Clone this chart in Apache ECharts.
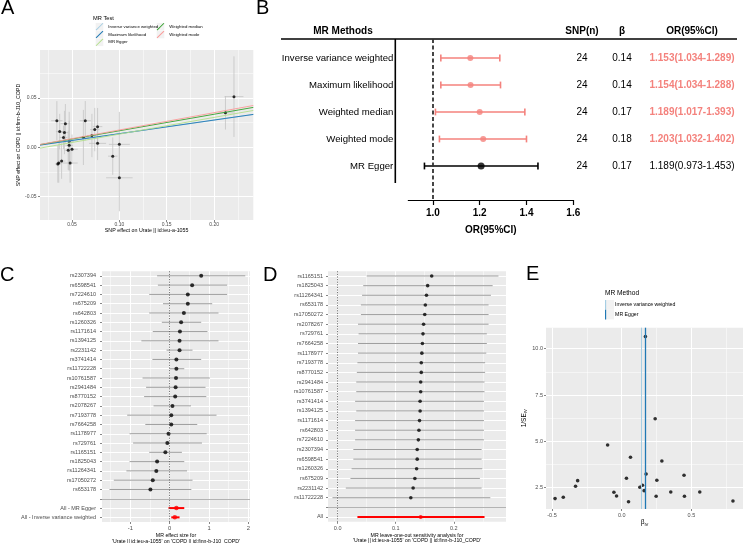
<!DOCTYPE html>
<html>
<head>
<meta charset="utf-8">
<script src="https://cdn.jsdelivr.net/npm/echarts@6.0.0/dist/echarts.min.js"></script>
<style>
html,body{margin:0;padding:0;background:#ffffff;}
#chart{width:743px;height:543px;}
</style>
</head>
<body>
<div id="chart"></div>
<script>
// ================= DATA =================
// ---- Panel A: MR scatter (SNP effects on exposure / outcome) ----
const aSnpBx = [0.221,0.212,0.034,0.064,0.037,0.043,0.042,0.077,0.074,0.071,0.062,0.041,0.047,0.047,0.077,0.100,0.046,0.050,0.093,0.036,0.035,0.048,0.100,0.039];
const aSnpBy = [0.0515,0.035,0.027,0.027,0.016,0.024,0.015,0.021,0.018,0.012,0.010,0.010,0.006,0.002,0.004,0.003,-0.003,-0.002,-0.009,-0.016,-0.017,-0.016,-0.031,-0.014];
const aSeX  = [0.010,0.008,0.006,0.006,0.004,0.005,0.004,0.005,0.005,0.005,0.006,0.004,0.005,0.004,0.009,0.011,0.004,0.006,0.005,0.003,0.003,0.008,0.014,0.004];
const aSeY  = [0.041,0.017,0.020,0.020,0.018,0.020,0.022,0.019,0.022,0.022,0.028,0.012,0.030,0.025,0.017,0.033,0.020,0.015,0.019,0.020,0.019,0.020,0.034,0.018];
const aMethods = ['Inverse variance weighted','Maximum likelihood','MR Egger','Weighted median','Weighted mode'];
const aSlopes = [0.138,0.1385,0.170,0.168,0.176];
const aIntercepts = [0,0,-0.0036,0,0];
const aXTicks = [0.05,0.10,0.15,0.20];
const aXMinor = [0.025,0.075,0.125,0.175,0.225];
const aYTicks = [-0.05,0,0.05];
const aYMinor = [-0.025,0.025,0.075];
const aXTitle = 'SNP effect on Urate || id:ieu-a-1055';
const aYTitle = 'SNP effect on COPD || id:finn-b-J10_COPD';
const aLegendTitle = 'MR Test';

// ---- Panel B: forest table ----
const bMethods = ['Inverse variance weighted','Maximum likelihood','Weighted median','Weighted mode','MR Egger'];
const bOR = [1.160,1.161,1.200,1.215,1.206];
const bLo = [1.034,1.034,1.011,1.028,0.964];
const bHi = [1.286,1.289,1.393,1.400,1.449];
const bSnp = ['24','24','24','24','24'];
const bBeta = ['0.14','0.14','0.17','0.18','0.17'];
const bOrText = ['1.153(1.034-1.289)','1.154(1.034-1.288)','1.189(1.017-1.393)','1.203(1.032-1.402)','1.189(0.973-1.453)'];
const bHeaders = ['MR Methods','SNP(n)','β','OR(95%CI)'];
const bTicks = [1.0,1.2,1.4,1.6];
const bXTitle = 'OR(95%CI)';

// ---- Panel C: single SNP forest ----
const cSnps = ['rs2307394','rs6598541','rs7224610','rs675209','rs642803','rs1260326','rs1171614','rs1394125','rs2231142','rs3741414','rs11722228','rs10761587','rs2941484','rs8770152','rs2078267','rs7193778','rs7664258','rs1178977','rs729761','rs1165151','rs1825043','rs11264341','rs17050272','rs653178'];
const cB  = [0.80,0.57,0.46,0.46,0.36,0.29,0.26,0.25,0.25,0.17,0.17,0.16,0.15,0.14,0.07,0.04,0.04,-0.03,-0.06,-0.11,-0.32,-0.34,-0.43,-0.49];
const cLo = [-0.32,-0.30,-0.52,-0.17,-0.52,-0.20,-0.43,-0.72,-0.08,-0.44,-0.01,-0.69,-0.60,-0.65,-0.41,-1.08,-0.62,-1.02,-0.93,-0.52,-1.02,-1.10,-1.42,-1.53];
const cUp = [1.92,1.46,1.46,1.08,1.24,0.80,0.96,1.24,0.58,0.80,0.37,1.02,0.91,0.93,0.54,1.19,0.70,0.94,0.82,0.31,0.37,0.44,0.58,0.55];
const cAll = ['All - MR Egger','All - Inverse variance weighted'];
const cAllB  = [0.17,0.13];
const cAllLo = [-0.03,0.04];
const cAllUp = [0.37,0.25];
const cXTicks = [-1,0,1,2];
const cXMinor = [-1.5,-0.5,0.5,1.5];
const cXTitle = "MR effect size for\n'Urate || id:ieu-a-1055' on 'COPD || id:finn-b-J10_COPD'";

// ---- Panel D: leave-one-out ----
const dSnps = ['rs1165151','rs1825043','rs11264341','rs653178','rs17050272','rs2078267','rs729761','rs7664258','rs1178977','rs7193778','rs8770152','rs2941484','rs10761587','rs3741414','rs1394125','rs1171614','rs642803','rs7224610','rs2307394','rs6598541','rs1260326','rs675209','rs2231142','rs11722228'];
const dB  = [0.162,0.155,0.153,0.151,0.150,0.148,0.147,0.146,0.145,0.144,0.144,0.143,0.143,0.142,0.142,0.141,0.140,0.139,0.137,0.137,0.136,0.133,0.130,0.126];
const dLo = [0.050,0.044,0.042,0.040,0.040,0.035,0.036,0.035,0.035,0.034,0.033,0.032,0.032,0.030,0.032,0.030,0.030,0.030,0.027,0.027,0.024,0.022,0.014,-0.009];
const dUp = [0.277,0.267,0.264,0.260,0.260,0.260,0.257,0.257,0.256,0.254,0.254,0.253,0.253,0.252,0.252,0.252,0.252,0.252,0.248,0.248,0.249,0.245,0.248,0.263];
const dAll = ['All'];
const dAllB = [0.143];
const dAllLo = [0.034];
const dAllUp = [0.253];
const dXTicks = [0,0.1,0.2];
const dXMinor = [0.05,0.15,0.25];
const dXTitle = "MR leave-one-out sensitivity analysis for\n'Urate || id:ieu-a-1055' on 'COPD || id:finn-b-J10_COPD'";

// ---- Panel E: funnel ----
const eB = [0.170,0.240,-0.101,0.063,0.288,0.175,0.447,0.034,-0.316,0.252,-0.331,0.149,0.130,0.161,-0.056,0.352,0.560,-0.037,0.247,0.450,-0.419,-0.478,0.049,0.798];
const eInvSe = [10.65,6.22,4.80,4.14,3.94,3.24,3.17,3.01,2.88,2.90,2.58,2.63,2.52,2.34,2.25,2.27,2.27,2.05,2.04,2.04,1.98,1.91,1.74,1.78];
const eMethods = ['Inverse variance weighted','MR Egger'];
const eMethodBeta = [0.144,0.173];
const eXTicks = [-0.5,0,0.5];
const eXMinor = [-0.25,0.25,0.75];
const eYTicks = [2.5,5,7.5,10];
const eYMinor = [3.75,6.25,8.75];
const eLegendTitle = 'MR Method';

const panelLetters = ['A','B','C','D','E'];

// ================= LAYOUT / STYLE =================
const FF = '"Liberation Sans", Arial, Helvetica, sans-serif';
const AX_TEXT = '#4D4D4D';
const PINK = '#F4827D';
const aColors = ['#A6CEE3','#1F78B4','#B2DF8A','#33A02C','#FB9A99'];
const eColors = ['#A6CEE3','#1F78B4'];
const A_XR = [0.0162,0.2414], A_YR = [-0.0739,0.0989];
const C_XR = [-1.72,2.04];
const D_XR = [-0.0167,0.290];
const E_XR = [-0.543,0.87], E_YR = [1.35,11.13];

const gridDefs = [
  {left:40, top:50, width:213.3, height:170},
  {left:408.3, top:39, width:165, height:161},
  {left:102, top:271.2, width:148, height:250.8},
  {left:328, top:271.2, width:178, height:250.6},
  {left:546, top:327.7, width:197, height:181.3}
];
const grids = gridDefs.map((g,i)=>Object.assign({show:i!==1, backgroundColor:'#EBEBEB', borderWidth:0, containLabel:false, outerBoundsMode:'none'}, g));

function vAxis(o){
  const ax = {type:'value', gridIndex:o.grid, min:o.min, max:o.max, inverse:!!o.inverse,
    axisLine:{show:false,onZero:false},
    splitLine:{show:true,lineStyle:{color:'#FFFFFF',width:o.minor?0.5:1}}};
  if(o.minor){
    ax.axisTick={show:false,customValues:o.ticks};
    ax.axisLabel={show:false};
  } else {
    ax.axisTick={show:true,length:2,lineStyle:{color:'#333333',width:0.6},customValues:o.ticks};
    ax.axisLabel={show:true,customValues:o.labels||o.ticks,formatter:o.fmt,fontSize:o.size,color:AX_TEXT,fontFamily:FF,margin:o.margin};
  }
  if(o.name){
    ax.name=o.name; ax.nameLocation='middle'; ax.nameGap=o.nameGap;
    ax.nameTextStyle=Object.assign({color:'#000',fontFamily:FF},o.nameStyle);
  }
  return ax;
}
const f2 = v=>Number(v).toFixed(2), f1 = v=>Number(v).toFixed(1);
const cLabels = cSnps.concat([''],cAll);
const dLabels = dSnps.concat([''],dAll);
const seq = n=>Array.from({length:n},(_,i)=>i+1);

const xAxes = [
  vAxis({grid:0,min:A_XR[0],max:A_XR[1],ticks:aXTicks,fmt:f2,size:5,margin:2.5,name:aXTitle,nameGap:6.5,nameStyle:{fontSize:5.3}}),
  vAxis({grid:0,min:A_XR[0],max:A_XR[1],ticks:aXMinor,minor:true}),
  {type:'value',gridIndex:1,min:0.895,max:1.6,position:'bottom',
    axisLine:{show:true,onZero:false,lineStyle:{color:'#000',width:1.2}},
    axisTick:{show:true,length:5,customValues:bTicks,lineStyle:{color:'#000',width:1.2}},
    axisLabel:{customValues:bTicks,formatter:f1,fontSize:10,fontWeight:'bold',color:'#000',fontFamily:FF,margin:8},
    splitLine:{show:false},
    name:bXTitle,nameLocation:'middle',nameGap:25,nameTextStyle:{fontSize:10,fontWeight:'bold',color:'#000',fontFamily:FF}},
  vAxis({grid:2,min:C_XR[0],max:C_XR[1],ticks:cXTicks,fmt:v=>String(v),size:5.8,margin:3.5,name:cXTitle,nameGap:10,nameStyle:{fontSize:5.2,lineHeight:5.8}}),
  vAxis({grid:2,min:C_XR[0],max:C_XR[1],ticks:cXMinor,minor:true}),
  vAxis({grid:3,min:D_XR[0],max:D_XR[1],ticks:dXTicks,fmt:f1,size:5.5,margin:3.5,name:dXTitle,nameGap:10,nameStyle:{fontSize:5.2,lineHeight:5.8}}),
  vAxis({grid:3,min:D_XR[0],max:D_XR[1],ticks:dXMinor,minor:true}),
  vAxis({grid:4,min:E_XR[0],max:E_XR[1],ticks:eXTicks,fmt:f1,size:5.5,margin:3,name:'β{sub|IV}',nameGap:8,
    nameStyle:{fontSize:6.5,rich:{sub:{fontSize:4.2,verticalAlign:'bottom',padding:[4,0,0,0],fontFamily:FF}}}}),
  vAxis({grid:4,min:E_XR[0],max:E_XR[1],ticks:eXMinor,minor:true})
];
const yAxes = [
  vAxis({grid:0,min:A_YR[0],max:A_YR[1],ticks:aYTicks,fmt:f2,size:5,margin:3.5,name:aYTitle,nameGap:10,nameStyle:{fontSize:5.3}}),
  vAxis({grid:0,min:A_YR[0],max:A_YR[1],ticks:aYMinor,minor:true}),
  {type:'value',gridIndex:1,min:0.296,max:6.26,inverse:true,
    axisLine:{show:false,onZero:false},axisTick:{show:false},splitLine:{show:false},
    axisLabel:{customValues:seq(bMethods.length),formatter:v=>bMethods[v-1],fontSize:9.6,color:'#000',fontFamily:FF,margin:15}},
  vAxis({grid:2,min:0.5,max:cLabels.length+0.5,inverse:true,ticks:seq(cLabels.length),fmt:v=>cLabels[v-1],size:5.5,margin:6}),
  vAxis({grid:3,min:0.5,max:dLabels.length+0.5,inverse:true,ticks:seq(dLabels.length),fmt:v=>dLabels[v-1],size:5.5,margin:5}),
  vAxis({grid:4,min:E_YR[0],max:E_YR[1],ticks:eYTicks,fmt:f1,size:5.5,margin:3,name:'1/SE{sub|IV}',nameGap:18,
    nameStyle:{fontSize:6.5,rich:{sub:{fontSize:4.2,verticalAlign:'bottom',padding:[4,0,0,0],fontFamily:FF}}}}),
  vAxis({grid:4,min:E_YR[0],max:E_YR[1],ticks:eYMinor,minor:true})
];

// ---- render helpers ----
function ciRender(thinColor, thinW){
  return function(params, api){
    const lo=api.value(0), hi=api.value(1), row=api.value(2), tot=api.value(3);
    const p1=api.coord([lo,row]), p2=api.coord([hi,row]);
    return {type:'line',shape:{x1:p1[0],y1:p1[1],x2:p2[0],y2:p2[1]},
      style:{stroke:tot?'#FF0000':thinColor,lineWidth:tot?2:thinW}};
  };
}
const refLines = (sepRow)=>({silent:true,symbol:'none',label:{show:false},animation:false,
  data:[{xAxis:0,lineStyle:{type:[1.2,1.4],color:'#555555',width:0.8}},
        {yAxis:sepRow,lineStyle:{type:'solid',color:'#B3B3B3',width:1}}]});

const series = [];
// Panel A
series.push({type:'custom',xAxisIndex:0,yAxisIndex:0,silent:true,z:2,
  data:aSnpBx.map((x,i)=>[x,aSnpBy[i],aSeX[i],aSeY[i]]),
  renderItem:(p,api)=>{
    const x=api.value(0),y=api.value(1),sx=api.value(2),sy=api.value(3);
    const t=api.coord([x,y+sy]),b=api.coord([x,y-sy]),l=api.coord([x-sx,y]),r=api.coord([x+sx,y]);
    const st={stroke:'#C4C4C4',lineWidth:0.8};
    return {type:'group',children:[
      {type:'line',shape:{x1:t[0],y1:t[1],x2:b[0],y2:b[1]},style:st},
      {type:'line',shape:{x1:l[0],y1:l[1],x2:r[0],y2:r[1]},style:st}]};
  }});
series.push({type:'scatter',xAxisIndex:0,yAxisIndex:0,symbolSize:3,z:3,itemStyle:{color:'#000'},
  data:aSnpBx.map((x,i)=>[x,aSnpBy[i]])});
aMethods.forEach((m,i)=>{
  series.push({name:m,type:'line',xAxisIndex:0,yAxisIndex:0,symbol:'none',z:4,color:aColors[i],
    lineStyle:{color:aColors[i],width:0.9},
    data:[[A_XR[0],aIntercepts[i]+aSlopes[i]*A_XR[0]],[A_XR[1],aIntercepts[i]+aSlopes[i]*A_XR[1]]]});
});
// Panel B
series.push({type:'custom',xAxisIndex:2,yAxisIndex:2,silent:true,z:3,
  data:bMethods.map((m,i)=>[bLo[i],bHi[i],i+1,bLo[i]>1?1:0]),
  renderItem:(p,api)=>{
    const a=api.coord([api.value(0),api.value(2)]),b=api.coord([api.value(1),api.value(2)]);
    const col=api.value(3)?PINK:'#000000', h=3.4, st={stroke:col,lineWidth:1.6};
    return {type:'group',children:[
      {type:'line',shape:{x1:a[0],y1:a[1],x2:b[0],y2:b[1]},style:st},
      {type:'line',shape:{x1:a[0],y1:a[1]-h,x2:a[0],y2:a[1]+h},style:st},
      {type:'line',shape:{x1:b[0],y1:b[1]-h,x2:b[0],y2:b[1]+h},style:st}]};
  }});
series.push({type:'scatter',xAxisIndex:2,yAxisIndex:2,z:4,
  data:bMethods.map((m,i)=>({value:[bOR[i],i+1],symbolSize:bLo[i]>1?6:7,itemStyle:{color:bLo[i]>1?PINK:'#000'}})),
  markLine:{silent:true,symbol:'none',label:{show:false},lineStyle:{type:[4,2.5],color:'#333',width:1.8},data:[{xAxis:1}]}});
// Panel C
series.push({type:'custom',xAxisIndex:3,yAxisIndex:3,silent:true,z:3,
  data:cSnps.map((s,i)=>[cLo[i],cUp[i],i+1,0]).concat(cAll.map((s,j)=>[cAllLo[j],cAllUp[j],cSnps.length+2+j,1])),
  renderItem:ciRender('#858585',0.8)});
series.push({type:'scatter',xAxisIndex:3,yAxisIndex:3,symbolSize:4,z:4,itemStyle:{color:'#000'},
  data:cSnps.map((s,i)=>[cB[i],i+1]),markLine:refLines(cSnps.length+1)});
series.push({type:'scatter',xAxisIndex:3,yAxisIndex:3,symbolSize:4.5,z:5,itemStyle:{color:'#FF0000'},
  data:cAll.map((s,j)=>[cAllB[j],cSnps.length+2+j])});
// Panel D
series.push({type:'custom',xAxisIndex:5,yAxisIndex:4,silent:true,z:3,
  data:dSnps.map((s,i)=>[dLo[i],dUp[i],i+1,0]).concat(dAll.map((s,j)=>[dAllLo[j],dAllUp[j],dSnps.length+2+j,1])),
  renderItem:ciRender('#858585',0.8)});
series.push({type:'scatter',xAxisIndex:5,yAxisIndex:4,symbolSize:3.6,z:4,itemStyle:{color:'#000'},
  data:dSnps.map((s,i)=>[dB[i],i+1]),markLine:refLines(dSnps.length+1)});
series.push({type:'scatter',xAxisIndex:5,yAxisIndex:4,symbolSize:4,z:5,itemStyle:{color:'#FF0000'},
  data:dAll.map((s,j)=>[dAllB[j],dSnps.length+2+j])});
// Panel E
eMethods.forEach((m,i)=>{
  series.push({name:m,type:'scatter',xAxisIndex:7,yAxisIndex:5,data:[],z:3,itemStyle:{color:eColors[i]},
    markLine:{silent:true,symbol:'none',label:{show:false},lineStyle:{type:'solid',color:eColors[i],width:i?1.3:1},
      data:[{xAxis:eMethodBeta[i]}]}});
});
series.push({type:'scatter',xAxisIndex:7,yAxisIndex:5,symbolSize:3.6,z:4,itemStyle:{color:'#000'},
  data:eB.map((b,i)=>[b,eInvSe[i]])});

// ---- legends ----
const diagIcon = 'path://M0,9.1 L9.1,0 L10,0.9 L0.9,10 Z';
const vIcon = 'path://M4.4,0 L5.6,0 L5.6,10 L4.4,10 Z';
const legItem = (name,c)=>({name,itemStyle:{color:c,borderColor:c,borderWidth:0}});
const legBase = {orient:'vertical',padding:0,itemGap:0.2,selectedMode:false,
  textStyle:{fontFamily:FF,color:'#000'},lineStyle:{width:0}};
const legends = [
  Object.assign({},legBase,{left:95.7,top:22.9,itemWidth:7.6,itemHeight:7.6,icon:diagIcon,
    textStyle:{fontFamily:FF,color:'#000',fontSize:4.3},
    data:aMethods.slice(0,3).map((m,i)=>legItem(m,aColors[i]))}),
  Object.assign({},legBase,{left:156.7,top:22.9,itemWidth:7.6,itemHeight:7.6,icon:diagIcon,
    textStyle:{fontFamily:FF,color:'#000',fontSize:4.3},
    data:aMethods.slice(3).map((m,i)=>legItem(m,aColors[i+3]))}),
  Object.assign({},legBase,{left:605,top:300,itemWidth:9,itemHeight:9.7,itemGap:0,icon:vIcon,
    textStyle:{fontFamily:FF,color:'#000',fontSize:5.2},
    data:eMethods.map((m,i)=>legItem(m,eColors[i]))})
];

const chart = echarts.init(document.getElementById('chart'),null,{renderer:'canvas',width:743,height:543});
chart.setOption({animation:false,backgroundColor:'#ffffff',
  textStyle:{fontFamily:FF},
  grid:grids,xAxis:xAxes,yAxis:yAxes,legend:legends,series:series});

// ---- graphic texts (letters, legend titles, table) ----
const g = [];
const letterPos = [[1,-2],[256,-2],[0,265],[263,265],[526,264]];
panelLetters.forEach((L,i)=>g.push({type:'text',x:letterPos[i][0],y:letterPos[i][1],
  style:{text:L,fontSize:20,fontFamily:FF,fill:'#000',verticalAlign:'top',align:'left'}}));
// legend key backgrounds
[0,1,2].forEach(k=>g.push({type:'rect',shape:{x:95.7,y:22.9+k*7.8,width:7.6,height:7.6},style:{fill:'#F2F2F2'},z:-1}));
[0,1].forEach(k=>g.push({type:'rect',shape:{x:156.7,y:22.9+k*7.8,width:7.6,height:7.6},style:{fill:'#F2F2F2'},z:-1}));
[0,1].forEach(k=>g.push({type:'rect',shape:{x:605,y:300+k*9.7,width:9,height:9.7},style:{fill:'#F2F2F2'},z:-1}));
g.push({type:'text',x:93,y:18.3,style:{text:aLegendTitle,fontSize:5.7,fontFamily:FF,fill:'#000',verticalAlign:'middle'}});
g.push({type:'text',x:605,y:293.3,style:{text:eLegendTitle,fontSize:6.6,fontFamily:FF,fill:'#000',verticalAlign:'middle'}});
// table
const colX = [343,582,622,692];
const headY = 31;
bHeaders.forEach((h,i)=>g.push({type:'text',x:colX[i],y:headY,
  style:{text:h,fontSize:10,fontWeight:'bold',fontFamily:FF,fill:'#000',align:'center',verticalAlign:'middle'}}));
g.push({type:'line',shape:{x1:281,y1:39,x2:737,y2:39},style:{stroke:'#000',lineWidth:1.6}});
const rowTopY = chart.convertToPixel({yAxisIndex:2},0.296);
const lastRowY = chart.convertToPixel({yAxisIndex:2},bMethods.length);
g.push({type:'line',shape:{x1:395.3,y1:rowTopY,x2:395.3,y2:lastRowY+17},style:{stroke:'#000',lineWidth:1.6}});
bMethods.forEach((m,i)=>{
  const y = chart.convertToPixel({yAxisIndex:2},i+1);
  const sig = bLo[i]>1;
  g.push({type:'text',x:colX[1],y:y,style:{text:bSnp[i],fontSize:10,fontFamily:FF,fill:'#000',align:'center',verticalAlign:'middle'}});
  g.push({type:'text',x:colX[2],y:y,style:{text:bBeta[i],fontSize:10,fontFamily:FF,fill:'#000',align:'center',verticalAlign:'middle'}});
  g.push({type:'text',x:colX[3],y:y,style:{text:bOrText[i],fontSize:10,fontWeight:sig?'bold':'normal',fontFamily:FF,fill:sig?PINK:'#000',align:'center',verticalAlign:'middle'}});
});
chart.setOption({graphic:{elements:g}});
</script>
</body>
</html>
